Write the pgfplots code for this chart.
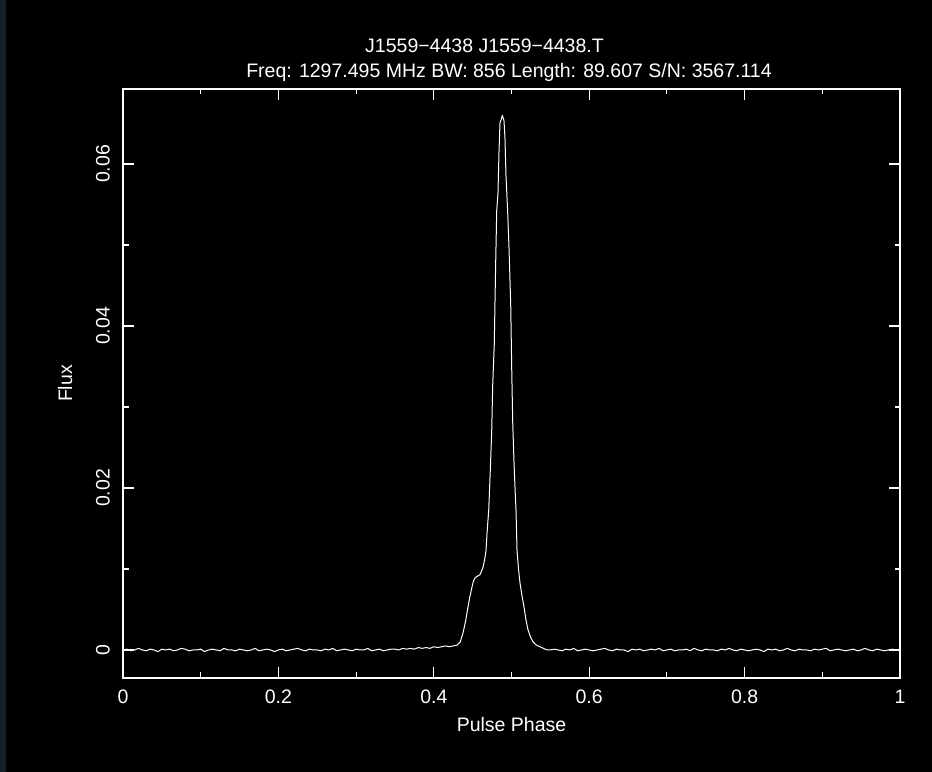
\documentclass[border=0pt]{standalone}
\usepackage{pgfplots}
\pgfplotsset{compat=1.18}
\usepackage{fontspec}
\setmainfont{Liberation Sans}
\definecolor{strip}{HTML}{141F28}
\begin{document}
\begin{tikzpicture}[font=\fontsize{19.5bp}{23bp}\selectfont]
\useasboundingbox (0,0) rectangle (932bp,772bp);
\fill[black] (0,0) rectangle (932bp,772bp);
\fill[strip] (0,0) rectangle (6bp,772bp);
\begin{axis}[
  at={(123bp,94bp)}, anchor=south west,
  width=777bp, height=589bp, scale only axis,
  xmin=0, xmax=1, ymin=-0.00346, ymax=0.06926,
  scaled y ticks=false, scaled x ticks=false,
  axis line style={white, line width=1.3bp},
  every tick/.style={white, line width=1.1bp},
  tick align=inside, tick pos=both,
  major tick length=11bp, minor tick length=5.5bp,
  xtick={0,0.2,0.4,0.6,0.8,1},
  xticklabels={0,0.2,0.4,0.6,0.8,1},
  minor x tick num=1,
  ytick={0,0.02,0.04,0.06},
  yticklabels={0,0.02,0.04,0.06},
  minor y tick num=1,
  xticklabel style={text=white, anchor=north, inner sep=0pt, yshift=-12bp},
  yticklabel style={text=white, xshift=-13bp, rotate=90, anchor=south, inner sep=0pt},
  clip=false,
]
\addplot[white, line width=1bp, line join=round] coordinates {
(0,0) (0.005,0.0001) (0.01,-0.0001) (0.015,0) (0.02,0.0002) (0.025,0) (0.03,-0.0001) (0.035,0.0001) (0.04,0) (0.045,-0.0002) (0.05,0.0001) (0.055,0) (0.06,0.0001) (0.065,-0.0001) (0.07,0) (0.075,0.0002) (0.08,0.0001) (0.085,-0.0001) (0.09,0) (0.095,0) (0.1,0.0001) (0.105,-0.0002) (0.11,0) (0.115,0.0001) (0.12,0) (0.125,-0.0001) (0.13,0.0002) (0.135,0) (0.14,0) (0.145,-0.0001) (0.15,0.0001) (0.155,0) (0.16,-0.0001) (0.165,0) (0.17,0.0002) (0.175,-0.0001) (0.18,0) (0.185,0.0001) (0.19,0) (0.195,-0.0002) (0.2,0) (0.205,0.0001) (0.21,-0.0001) (0.215,0) (0.22,0.0001) (0.225,0.0002) (0.23,0) (0.235,-0.0001) (0.24,0.0001) (0.245,0) (0.25,0) (0.255,-0.0001) (0.26,0.0001) (0.265,0) (0.27,0.0002) (0.275,-0.0001) (0.28,0) (0.285,0.0001) (0.29,0) (0.295,-0.0001) (0.3,0.0001) (0.305,0) (0.31,0) (0.315,0.0002) (0.32,-0.0001) (0.325,0) (0.33,0.0001) (0.335,-0.0001) (0.34,0) (0.345,0.0001)
(0.35,0.0001) (0.355,0) (0.36,0.0002) (0.365,0.0001) (0.37,0.0002) (0.375,0.0001) (0.38,0.0003) (0.385,0.0002) (0.39,0.0003) (0.395,0.0002) (0.4,0.0004) (0.405,0.0003) (0.41,0.0004) (0.415,0.0005) (0.42,0.0004) (0.425,0.0005) (0.43,0.0006)
(0.434,0.0010) (0.4376,0.0021) (0.441,0.0036) (0.444,0.0053) (0.4465,0.0066) (0.4492,0.0078) (0.4510,0.0085) (0.4530,0.0089) (0.4560,0.0091) (0.4595,0.0093) (0.4633,0.0102) (0.4655,0.0112) (0.4672,0.0123) (0.4685,0.0144) (0.4697,0.0160) (0.4707,0.0173) (0.4727,0.0222) (0.4745,0.0269) (0.4758,0.0327) (0.4778,0.0377) (0.4797,0.0481) (0.4810,0.0543) (0.4826,0.0564) (0.4839,0.0615) (0.4852,0.0651) (0.4868,0.0655) (0.4882,0.0660) (0.4903,0.0654) (0.4916,0.0632) (0.4929,0.0586) (0.4951,0.0540) (0.4968,0.0496) (0.4990,0.0426) (0.5003,0.0346) (0.5016,0.0280) (0.5032,0.0232) (0.5049,0.0191) (0.5058,0.0173) (0.5071,0.0123) (0.5090,0.0100) (0.5109,0.0083) (0.5135,0.0067) (0.5161,0.0053) (0.5185,0.0038) (0.5212,0.0025) (0.5245,0.0016) (0.5277,0.0010) (0.532,0.0006) (0.5367,0.0004) (0.541,0.0002) (0.5457,0)
(0.55,0) (0.555,0.0001) (0.56,0) (0.565,-0.0001) (0.57,0.0001) (0.575,0) (0.58,0.0002) (0.585,-0.0001) (0.59,0) (0.595,0.0001) (0.6,0) (0.605,-0.0001) (0.61,0) (0.615,0.0001) (0.62,0.0002) (0.625,0) (0.63,-0.0001) (0.635,0.0001) (0.64,0) (0.645,0) (0.65,-0.0002) (0.655,0.0001) (0.66,0) (0.665,0.0001) (0.67,-0.0001) (0.675,0) (0.68,0.0001) (0.685,0) (0.69,0.0002) (0.695,-0.0001) (0.7,0) (0.705,0.0001) (0.71,-0.0001) (0.715,0) (0.72,0) (0.725,0.0001) (0.73,-0.0001) (0.735,0.0002) (0.74,0) (0.745,-0.0001) (0.75,0.0001) (0.755,0) (0.76,0) (0.765,-0.0001) (0.77,0.0001) (0.775,0) (0.78,0.0002) (0.785,0) (0.79,-0.0001) (0.795,0.0001) (0.8,0) (0.805,-0.0001) (0.81,0) (0.815,0.0001) (0.82,0) (0.825,-0.0002) (0.83,0.0001) (0.835,0) (0.84,0.0001) (0.845,-0.0001) (0.85,0) (0.855,0.0002) (0.86,0) (0.865,-0.0001) (0.87,0.0001) (0.875,0) (0.88,0) (0.885,-0.0001) (0.89,0.0001) (0.895,0) (0.9,0.0001) (0.905,0.0002) (0.91,-0.0001) (0.915,0) (0.92,0.0001) (0.925,0) (0.93,-0.0001) (0.935,0) (0.94,0.0001) (0.945,-0.0001) (0.95,0) (0.955,0.0002) (0.96,0) (0.965,-0.0001) (0.97,0.0001) (0.975,0) (0.98,-0.0001) (0.985,0) (0.99,0.0001) (0.995,0) (1.0,-0.0001)
};
\end{axis}
\node[text=white, anchor=base] at (484.5bp,719bp) {J1559−4438 J1559−4438.T};
\node[text=white, anchor=base] at (509bp,694bp) {Freq: 1297.495 MHz BW: 856 Length: 89.607 S/N: 3567.114};
\node[text=white, anchor=base] at (511.5bp,40bp) {Pulse Phase};
\node[text=white, rotate=90, anchor=base] at (72bp,388.5bp) {Flux};
\end{tikzpicture}
\end{document}
